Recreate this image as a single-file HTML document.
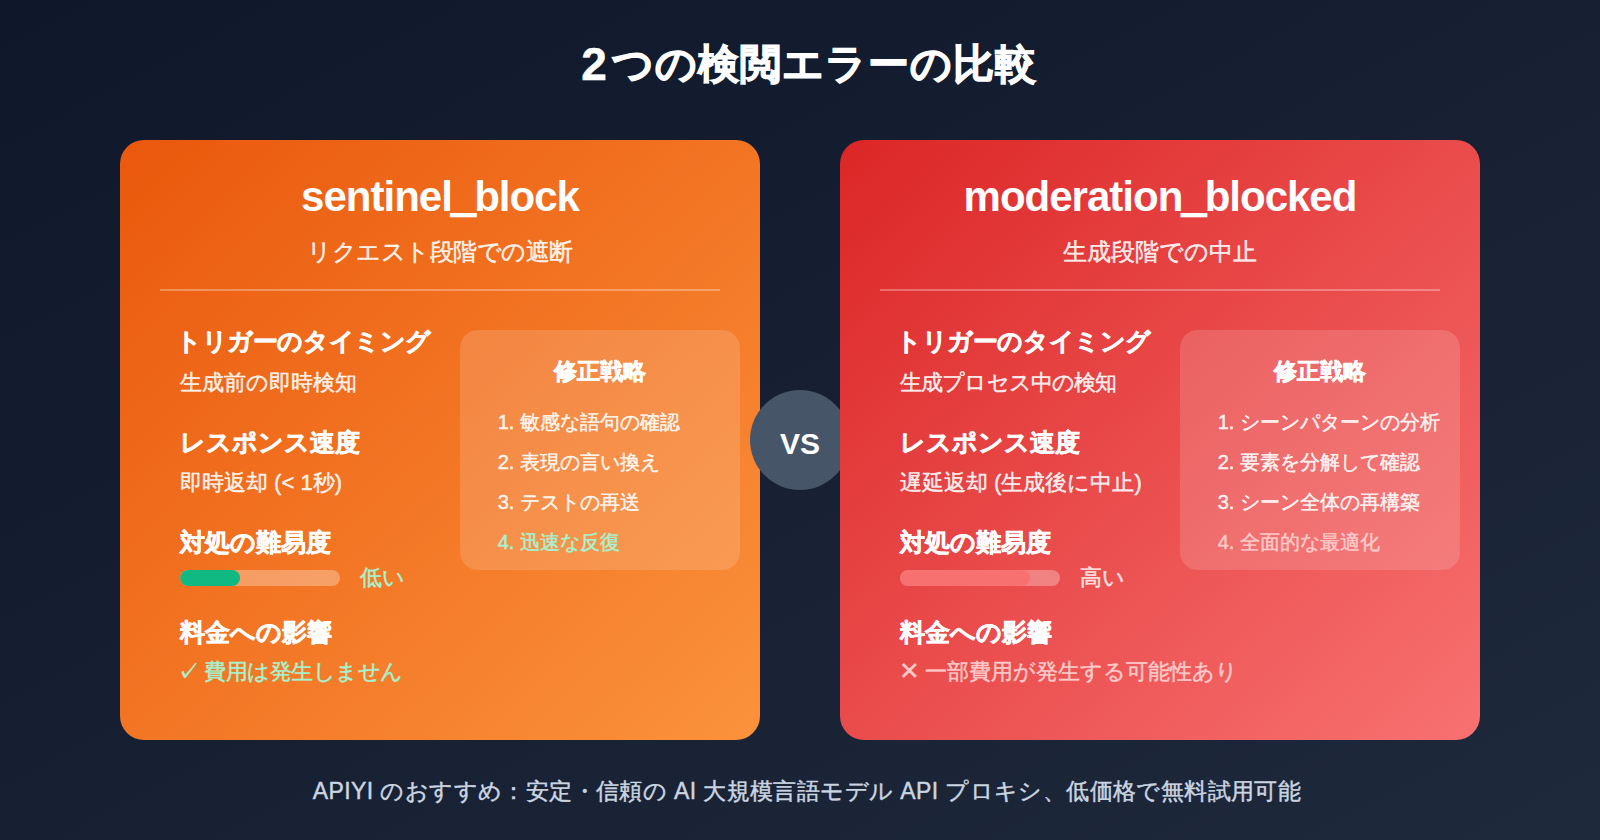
<!DOCTYPE html>
<html lang="ja">
<head>
<meta charset="utf-8">
<title>2つの検閲エラーの比較</title>
<style>
*{margin:0;padding:0;box-sizing:border-box}
html,body{width:1600px;height:840px;overflow:hidden}
body{font-family:"Liberation Sans",sans-serif;background:linear-gradient(to bottom right,#0f172a 0%,#1e293b 100%);color:#fff;position:relative}
.abs{position:absolute;white-space:nowrap}
h1{position:absolute;left:9px;letter-spacing:1px;width:1600px;text-align:center;top:36px;font-size:41px;line-height:56px;font-weight:700;color:#fff;-webkit-text-stroke:1.1px #fff}
.card{position:absolute;top:140px;width:640px;height:600px;border-radius:24px}
.c1{left:120px;background:linear-gradient(to bottom right,#ea580c 0%,#fb923c 100%)}
.c2{left:840px;background:linear-gradient(to bottom right,#dc2626 0%,#f87171 100%)}
.card h2{position:absolute;left:0;width:640px;text-align:center;top:33px;font-size:42px;line-height:48px;font-weight:700;letter-spacing:-1px}
.card .sub{position:absolute;left:0;width:640px;text-align:center;top:96px;font-size:24px;line-height:32px;color:rgba(255,255,255,.9);-webkit-text-stroke-width:.45px}
.us{-webkit-text-stroke:2.6px #fff}
.card .div{position:absolute;left:40px;width:560px;top:149px;height:2px;background:rgba(255,255,255,.3)}
.card h3{position:absolute;left:60px;font-size:25px;line-height:34px;font-weight:700;white-space:nowrap;-webkit-text-stroke:.55px #fff}
.card .val{position:absolute;left:60px;font-size:22px;line-height:30px;color:rgba(255,255,255,.9);white-space:nowrap;-webkit-text-stroke-width:.45px}
.bar{position:absolute;left:60px;top:430px;width:160px;height:16px;border-radius:8px;background:rgba(255,255,255,.3);overflow:hidden}
.bar i{position:absolute;left:0;top:0;height:16px;border-radius:8px}
.lvl{position:absolute;left:240px;top:423px;font-size:22px;line-height:30px;white-space:nowrap;-webkit-text-stroke-width:.45px}
.box{position:absolute;left:340px;top:190px;width:280px;height:240px;border-radius:18px;background:rgba(255,255,255,.15)}
.box h4{position:absolute;left:0;width:280px;text-align:center;top:25px;font-size:23px;line-height:32px;font-weight:700;-webkit-text-stroke:.5px #fff}
.box ol{position:absolute;left:60px;top:72px;font-size:20px;line-height:40px;color:rgba(255,255,255,.9);white-space:nowrap;-webkit-text-stroke-width:.45px}
.vs{position:absolute;left:750px;top:390px;width:100px;height:100px;border-radius:50%;background:#475569;font-size:30px;font-weight:700;line-height:100px;padding-top:4px;text-align:center}
.foot{position:absolute;left:7px;width:1600px;text-align:center;top:774px;font-size:23px;line-height:34px;letter-spacing:.4px;color:#cbd5e1;-webkit-text-stroke-width:.45px}
</style>
</head>
<body>
<h1><span style="font-size:46px;margin-right:4px;vertical-align:-2px;-webkit-text-stroke-width:.5px">2</span>つの検閲エラーの比較</h1>

<div class="card c1">
  <h2>sentinel<span class="us">_</span>block</h2>
  <div class="sub" style="letter-spacing:-.5px">リクエスト段階での遮断</div>
  <div class="div"></div>
  <h3 style="top:184px;margin-left:-4px;letter-spacing:-.4px">トリガーのタイミング</h3>
  <div class="val" style="top:228px">生成前の即時検知</div>
  <h3 style="top:285px">レスポンス速度</h3>
  <div class="val" style="top:328px">即時返却 (&lt; 1秒)</div>
  <h3 style="top:385px">対処の難易度</h3>
  <div class="bar"><i style="width:60px;background:#10b981"></i></div>
  <div class="lvl" style="color:#a7f3d0">低い</div>
  <h3 style="top:475px">料金への影響</h3>
  <div class="val" style="top:517px;margin-left:-3px;letter-spacing:-.5px;color:#a7f3d0">✓ 費用は発生しません</div>
  <div class="box">
    <h4>修正戦略</h4>
    <ol>
      <li>敏感な語句の確認</li>
      <li>表現の言い換え</li>
      <li>テストの再送</li>
      <li style="color:#a7f3d0">迅速な反復</li>
    </ol>
  </div>
</div>

<div class="vs">VS</div>

<div class="card c2">
  <h2>moderation<span class="us">_</span>blocked</h2>
  <div class="sub">生成段階での中止</div>
  <div class="div"></div>
  <h3 style="top:184px;margin-left:-4px;letter-spacing:-.4px">トリガーのタイミング</h3>
  <div class="val" style="top:228px;letter-spacing:-.85px">生成プロセス中の検知</div>
  <h3 style="top:285px">レスポンス速度</h3>
  <div class="val" style="top:328px">遅延返却 (生成後に中止)</div>
  <h3 style="top:385px">対処の難易度</h3>
  <div class="bar"><i style="width:130px;background:#f87171"></i></div>
  <div class="lvl" style="color:#fee2e2">高い</div>
  <h3 style="top:475px">料金への影響</h3>
  <div class="val" style="top:517px;color:#fecaca"><span style="font-size:32px;line-height:0;vertical-align:-2px">×</span> 一部費用が発生する可能性あり</div>
  <div class="box">
    <h4>修正戦略</h4>
    <ol>
      <li>シーンパターンの分析</li>
      <li>要素を分解して確認</li>
      <li>シーン全体の再構築</li>
      <li style="color:#fecaca">全面的な最適化</li>
    </ol>
  </div>
</div>

<div class="foot">APIYI のおすすめ：安定・信頼の AI 大規模言語モデル API プロキシ、低価格で無料試用可能</div>
</body>
</html>
